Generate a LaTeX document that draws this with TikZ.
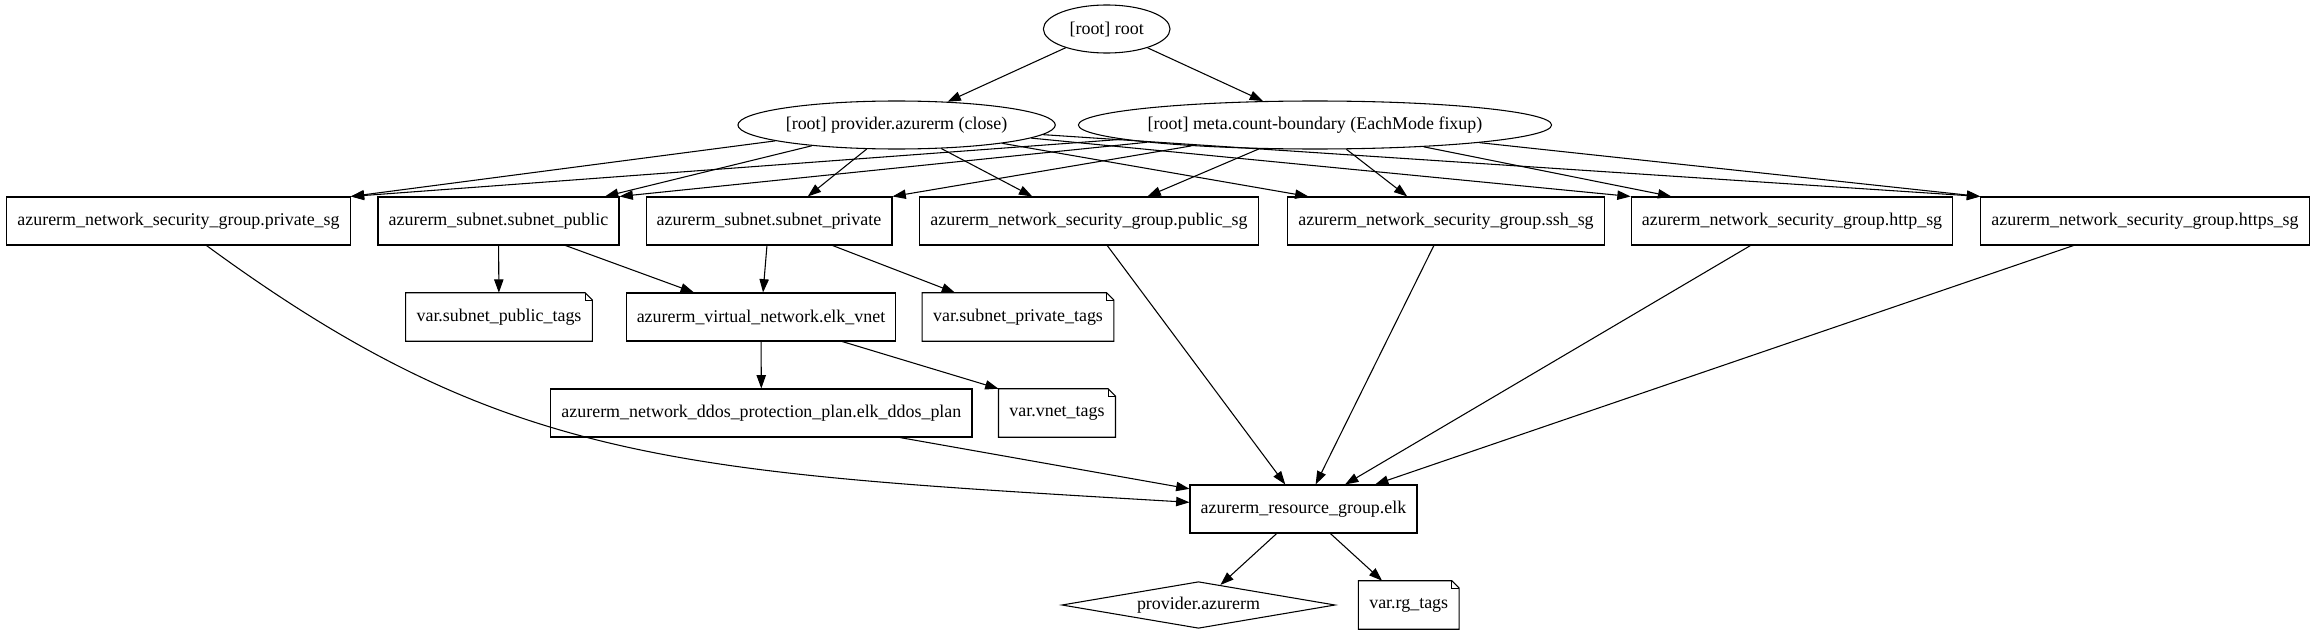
\documentclass[tikz,border=0pt]{standalone}
\usepackage{fontspec}
\setmainfont{Liberation Serif}
\usetikzlibrary{shapes.geometric,arrows.meta,calc}
\newcommand{\gvfont}{\fontsize{13.45pt}{16pt}\selectfont}
\begin{document}
\begin{tikzpicture}[x=0.75pt,y=-0.75pt,
  gvbox/.style={draw, rectangle, minimum height=36pt, inner xsep=8pt, inner ysep=0pt, font=\gvfont, line width=0.8pt},
  gvnote/.style={rectangle, minimum height=36pt, inner xsep=8pt, inner ysep=0pt, font=\gvfont},
  gvell/.style={draw, ellipse, minimum height=36pt, inner sep=0pt, font=\gvfont, line width=0.8pt},
  gvdia/.style={draw, diamond, aspect=5.7, minimum width=205pt, minimum height=35pt, inner sep=0pt, font=\gvfont, line width=0.8pt},
  gvedge/.style={-{Triangle[length=10pt,width=7pt]}, line width=0.8pt},
  gvfold/.style={line width=0.8pt}]
\useasboundingbox (0,0) rectangle (2317,635);

% rank 0
\node[gvell, minimum width=95pt] (root) at (1106.7,29) {[root] root};
% rank 1
\node[gvell, minimum width=238pt] (pc) at (896.6,125) {[root] provider.azurerm (close)};
\node[gvell, minimum width=354pt] (meta) at (1315,125) {[root] meta.count-boundary (EachMode fixup)};
% rank 2
\node[gvbox] (psg) at (178.5,221) {azurerm\_network\_security\_group.private\_sg};
\node[gvbox] (sp) at (498.5,221) {azurerm\_subnet.subnet\_public};
\node[gvbox] (spr) at (769,221) {azurerm\_subnet.subnet\_private};
\node[gvbox] (pubsg) at (1089,221) {azurerm\_network\_security\_group.public\_sg};
\node[gvbox] (ssh) at (1446,221) {azurerm\_network\_security\_group.ssh\_sg};
\node[gvbox] (http) at (1792,221) {azurerm\_network\_security\_group.http\_sg};
\node[gvbox] (https) at (2145,221) {azurerm\_network\_security\_group.https\_sg};
% rank 3
\node[gvnote] (spt) at (499,317) {var.subnet\_public\_tags};
\node[gvbox] (vnet) at (761,317) {azurerm\_virtual\_network.elk\_vnet};
\node[gvnote] (sprt) at (1018,317) {var.subnet\_private\_tags};
% rank 4
\node[gvbox] (ddos) at (761.4,413) {azurerm\_network\_ddos\_protection\_plan.elk\_ddos\_plan};
\node[gvnote] (vt) at (1057,413) {var.vnet\_tags};
% rank 5
\node[gvbox] (rg) at (1303.5,509) {azurerm\_resource\_group.elk};
% rank 6
\node[gvdia] (pa) at (1198.5,605) {provider.azurerm};
\node[gvnote] (rgt) at (1408.7,605) {var.rg\_tags};

% note outlines
\foreach \n in {spt,sprt,vt,rgt}{
  \draw[gvfold] (\n.south west) -- (\n.north west) -- ([xshift=-5.5pt]\n.north east)
     -- ([yshift=-5.5pt]\n.north east) -- (\n.south east) -- cycle;
  \draw[gvfold] ([xshift=-5.5pt]\n.north east) |- ([yshift=-5.5pt]\n.north east);
}

% edges
\draw[gvedge] (root) -- (pc);
\draw[gvedge] (root) -- (meta);

\draw[gvedge] (pc) -- (psg.north east);
\draw[gvedge] (meta) -- (psg.north east);
\draw[gvedge] (pc) -- ($(sp.north west)!0.94!(sp.north east)$);
\draw[gvedge] (meta) -- (sp.north east);
\draw[gvedge] (pc) -- ($(spr.north west)!0.657!(spr.north east)$);
\draw[gvedge] (meta) -- (spr.north east);
\draw[gvedge] (pc) -- ($(pubsg.north west)!0.333!(pubsg.north east)$);
\draw[gvedge] (meta) -- ($(pubsg.north west)!0.672!(pubsg.north east)$);
\draw[gvedge] (pc) -- ($(ssh.north west)!0.067!(ssh.north east)$);
\draw[gvedge] (meta) -- ($(ssh.north west)!0.378!(ssh.north east)$);
\draw[gvedge] (pc) -- (http.north west);
\draw[gvedge] (meta) -- ($(http.north west)!0.126!(http.north east)$);
\draw[gvedge] (pc) -- (https.north west);
\draw[gvedge] (meta) -- (https.north west);

\draw[gvedge] (sp) -- (spt);
\draw[gvedge] (sp) -- (vnet);
\draw[gvedge] (spr) -- (vnet);
\draw[gvedge] (spr) -- (sprt);
\draw[gvedge] (vnet) -- (ddos);
\draw[gvedge] (vnet) -- (vt.north west);

\draw[gvedge] ([xshift=21pt]psg.south) .. controls (506,465) and (678,472) .. ([yshift=5pt]rg.west);
\draw[gvedge] (ddos) -- (rg);
\draw[gvedge] (pubsg) -- (rg);
\draw[gvedge] (ssh) -- (rg);
\draw[gvedge] (http) -- (rg);
\draw[gvedge] (https) -- (rg);

\draw[gvedge] (rg) -- (pa);
\draw[gvedge] (rg) -- (rgt);
\end{tikzpicture}
\end{document}
